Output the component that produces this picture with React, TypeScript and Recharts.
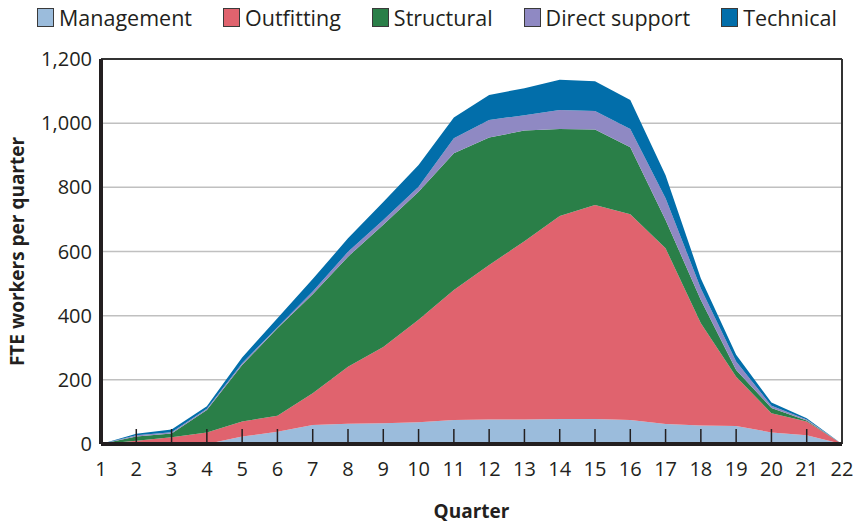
import React from 'react';
import { AreaChart, Area, XAxis, YAxis, CartesianGrid, ReferenceLine } from 'recharts';

const quarters = [1, 2, 3, 4, 5, 6, 7, 8, 9, 10, 11, 12, 13, 14, 15, 16, 17, 18, 19, 20, 21, 22];
const management = [0, 0, 0, 0, 23, 38, 59, 63, 65, 68, 75, 76, 76, 78, 78, 75, 62, 58, 56, 36, 27, 0];
const outfitting = [0, 10, 21, 36, 47, 50, 99, 178, 237, 319, 405, 482, 556, 633, 667, 641, 548, 318, 154, 60, 43, 0];
const structural = [0, 13, 12, 70, 176, 273, 309, 343, 381, 399, 426, 397, 345, 271, 235, 209, 88, 73, 21, 16, 3, 0];
const directSupport = [0, 4, 4, 4, 6, 3, 8, 15, 15, 16, 47, 55, 48, 59, 58, 57, 68, 36, 26, 7, 3, 0];
const technical = [0, 5, 8, 8, 18, 28, 39, 42, 56, 68, 65, 78, 84, 94, 93, 90, 72, 31, 21, 10, 4, 0];
const yTicks = [0, 200, 400, 600, 800, 1000, 1200];

const series = [
  { key: 'management', name: 'Management', color: '#9bbcdc' },
  { key: 'outfitting', name: 'Outfitting', color: '#e0636e' },
  { key: 'structural', name: 'Structural', color: '#2a7f48' },
  { key: 'directSupport', name: 'Direct support', color: '#8f89c3' },
  { key: 'technical', name: 'Technical', color: '#026eaa' },
];

const data = quarters.map((q, i) => ({
  q,
  management: management[i],
  outfitting: outfitting[i],
  structural: structural[i],
  directSupport: directSupport[i],
  technical: technical[i],
}));

const FONT = '"Open Sans", "Noto Sans", sans-serif';
const INK = '#231f20';

const QuarterTick = ({ x, y, payload }: any) => (
  <g>
    {payload.value > 1 && payload.value < 22 && (
      <line x1={x} x2={x} y1={y - 15} y2={y} stroke={INK} strokeWidth={1.5} />
    )}
    <text x={x} y={y + 32} textAnchor="middle" fontSize={20} fontFamily={FONT} fill={INK}>
      {payload.value}
    </text>
  </g>
);

function LegendRow() {
  return (
    <div
      style={{
        position: 'absolute',
        top: 3,
        left: 37,
        display: 'flex',
        alignItems: 'center',
        fontFamily: FONT,
        fontSize: 21.5,
        color: INK,
        whiteSpace: 'nowrap',
      }}
    >
      {series.map((s) => (
        <div key={s.key} style={{ display: 'flex', alignItems: 'center', marginRight: 31 }}>
          <span
            style={{
              display: 'inline-block',
              width: 15,
              height: 17,
              background: s.color,
              border: '1.5px solid #3a3a3a',
              marginRight: 5,
            }}
          />
          <span>{s.name}</span>
        </div>
      ))}
    </div>
  );
}

export default function App() {
  return (
    <div style={{ position: 'absolute', left: 0, top: 0, width: 859, height: 524, background: '#fff' }}>
      <LegendRow />
      <AreaChart width={859} height={524} data={data} margin={{ top: 59, right: 17, left: 0, bottom: 0 }}>
        <CartesianGrid vertical={false} stroke="#c0c0c0" strokeWidth={1.5} />
        {series.map((s) => (
          <Area
            key={s.key}
            type="linear"
            dataKey={s.key}
            name={s.name}
            stackId="1"
            stroke="none"
            fill={s.color}
            fillOpacity={1}
            isAnimationActive={false}
          />
        ))}
        <ReferenceLine y={1200} stroke="#333" strokeWidth={2} />
        <ReferenceLine x={22} stroke="#333" strokeWidth={2} />
        <XAxis
          dataKey="q"
          type="number"
          domain={[1, 22]}
          ticks={quarters}
          interval={0}
          height={80}
          tickSize={0}
          tickMargin={0}
          tickLine={false}
          axisLine={{ stroke: INK, strokeWidth: 4 }}
          tick={<QuarterTick />}
          label={{
            value: 'Quarter',
            position: 'insideBottom',
            offset: 6,
            style: { fontFamily: FONT, fontSize: 19, fontWeight: 700, fill: INK },
          }}
        />
        <YAxis
          domain={[0, 1200]}
          ticks={yTicks}
          width={101}
          tickSize={0}
          tickMargin={9}
          tickLine={false}
          axisLine={{ stroke: INK, strokeWidth: 4 }}
          tickFormatter={(v: number) => v.toLocaleString('en-US')}
          tick={{ fontFamily: FONT, fontSize: 20, fill: INK }}
          label={{
            value: 'FTE workers per quarter',
            angle: -90,
            position: 'insideLeft',
            offset: 17,
            style: { fontFamily: FONT, fontSize: 19, fontWeight: 700, fill: INK, textAnchor: 'middle' },
          }}
        />
      </AreaChart>
    </div>
  );
}
